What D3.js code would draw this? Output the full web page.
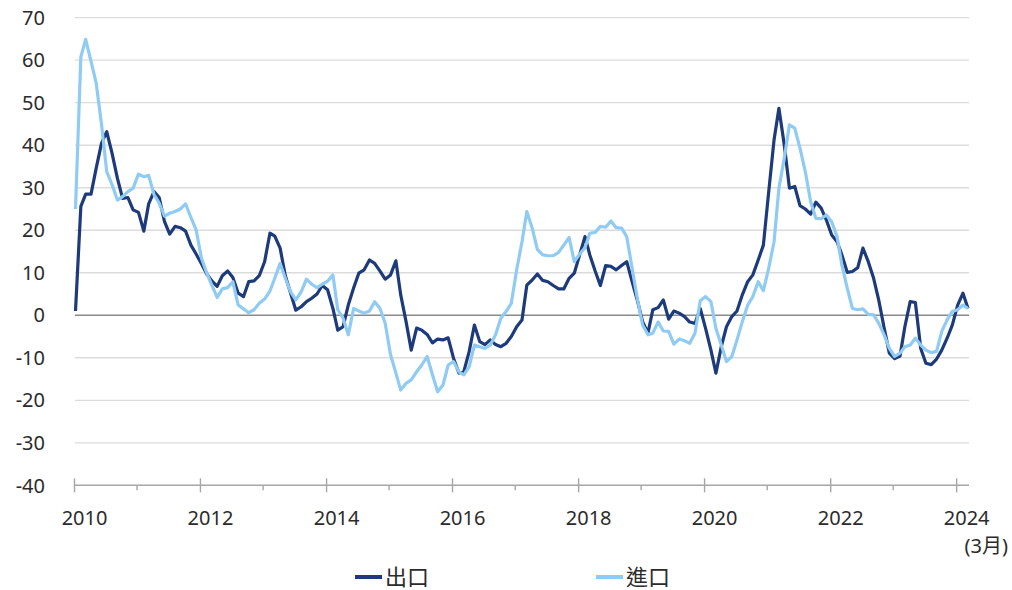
<!DOCTYPE html>
<html>
<head>
<meta charset="utf-8">
<script src="https://cdn.jsdelivr.net/npm/d3@7"></script>
<style>
  body { margin: 0; background: #fff; }
  text { font-family: "Noto Sans", "Noto Sans CJK TC", sans-serif; }
</style>
</head>
<body>
<svg id="chart" width="1012" height="590"></svg>
<script>
// monthly y/y %, Jan 2010 .. Mar 2024
const seriesNames = ["出口", "進口"];
const startMonth = new Date(2010, 0, 1);

const exportValues = [
  1, 25.6, 28.5, 28.5, 34.6, 40.5, 43.2, 38.1, 32.2, 27.5, 27.7, 24.8,
  24.2, 19.8, 26.2, 29.1, 27.7, 22.0, 19.1, 20.9, 20.6, 19.8, 16.5, 14.4,
  12.1, 9.7, 8.1, 6.8, 9.3, 10.4, 8.9, 5.2, 4.4, 7.9, 8.1, 9.3,
  12.6, 19.3, 18.6, 15.8, 9.3, 5.2, 1.2, 2.0, 3.2, 4.0, 5.0, 7.0,
  6.0, 1.6, -3.5, -2.7, 2.4, 6.4, 9.9, 10.7, 13.0, 12.2, 10.4, 8.5,
  9.5, 12.8, 4.8, -1.5, -8.2, -3.0, -3.5, -4.5, -6.5, -5.6, -5.8, -5.3,
  -10.1, -13.6, -13.2, -8.5, -2.3, -6.2, -6.9, -5.8, -6.9, -7.4, -6.6, -5.0,
  -2.7, -1.1, 7.1, 8.3, 9.7, 8.2, 7.9, 7.0, 6.2, 6.2, 8.7, 9.9,
  14.2, 18.5, 14.2, 10.4, 7.0, 11.7, 11.5, 10.7, 11.7, 12.6, 7.9, 3.6,
  -1.5, -4.2, 1.3, 1.8, 3.6, -0.9, 1.0, 0.5, -0.3, -1.6, -1.9, 1.6,
  -3.1, -8.2, -13.6, -7.4, -2.7, -0.3, 1.0, 4.8, 7.9, 9.5, 13.0, 16.5,
  29.1, 41.3, 48.7, 40.1, 29.9, 30.3, 25.8, 25.0, 23.8, 26.6, 25.2, 22.4,
  18.9, 17.3, 14.2, 10.1, 10.3, 11.2, 15.8, 12.6, 8.7, 3.5, -3.0, -8.9,
  -10.2, -9.6, -2.7, 3.2, 3.0, -7.8, -11.3, -11.6, -10.3, -8.2, -5.4, -2.3,
  2.4, 5.2, 1.6
];

const importValues = [
  25, 60.8, 64.9, 59.7, 54.6, 44.8, 33.8, 30.7, 27.1, 27.9, 29.1, 29.9,
  33.2, 32.6, 32.9, 28.4, 26.4, 23.3, 24.0, 24.4, 25.0, 26.2, 23.0, 20.1,
  13.4, 9.9, 7.1, 4.2, 6.2, 6.5, 7.9, 2.4, 1.5, 0.6, 1.3, 2.8,
  3.8, 5.7, 8.7, 12.2, 8.7, 5.5, 3.6, 5.5, 8.5, 7.3, 6.5, 7.3,
  8.0, 9.5, 1.3, -0.7, -4.6, 1.6, 1.0, 0.5, 1.0, 3.2, 1.6, -1.9,
  -9.3, -13.6, -17.6, -16.0, -15.2, -13.3, -11.7, -9.7, -14.0, -18.0, -16.4, -11.7,
  -10.9, -13.3, -14.0, -12.1, -7.0, -7.4, -7.8, -7.0, -4.6, -0.7, 0.9, 2.8,
  10.7, 17.3, 24.4, 20.5, 15.5, 14.2, 14.0, 14.0, 14.8, 16.5, 18.3, 12.6,
  14.4, 15.9, 19.3, 19.5, 20.9, 20.7, 22.2, 20.6, 20.5, 18.5, 11.1, 4.0,
  -2.3, -4.6, -4.2, -1.6, -3.7, -3.8, -6.8, -5.6, -6.0, -6.6, -4.2, 3.4,
  4.4, 3.2, -3.1, -7.0, -10.9, -9.7, -5.8, -1.5, 2.4, 4.4, 7.9, 5.8,
  11.1, 17.3, 29.9, 36.9, 44.8, 44.0, 39.3, 33.8, 26.7, 22.8, 22.7, 23.6,
  22.0, 18.5, 11.8, 6.4, 1.6, 1.3, 1.5, 0.2, 0.1, -1.9, -4.6, -7.8,
  -9.7, -8.9, -7.4, -7.0, -5.4, -7.0, -8.2, -8.8, -8.5, -3.8, -1.1, 0.9,
  1.3, 2.4, 1.6
];

const yTicks = [-40, -30, -20, -10, 0, 10, 20, 30, 40, 50, 60, 70];
const labelYears = [2010, 2012, 2014, 2016, 2018, 2020, 2022, 2024];
const minorYears = [2011, 2013, 2015, 2017, 2019, 2021, 2023];
const endNote = "(3月)";

const colors = ["#1d3a7b", "#8fcbf3"];

const dates = exportValues.map((d, i) => d3.timeMonth.offset(startMonth, i));

const svg = d3.select("#chart");

const x = d3.scaleTime()
  .domain([dates[0], dates[dates.length - 1]])
  .range([75.5, 968]);

const y = d3.scaleLinear()
  .domain([-40, 70])
  .range([485.3, 17.7]);

const left = 75, right = 969;

// gridlines
svg.append("g")
  .selectAll("line")
  .data(yTicks.filter(t => t !== -40))
  .enter().append("line")
  .attr("x1", left).attr("x2", right)
  .attr("y1", d => y(d)).attr("y2", d => y(d))
  .attr("stroke", d => d === 0 ? "#8a8a8a" : "#dcdcdc")
  .attr("stroke-width", d => d === 0 ? 1.5 : 1.3);

// y labels
svg.append("g")
  .selectAll("text")
  .data(yTicks)
  .enter().append("text")
  .attr("x", 45)
  .attr("y", d => y(d))
  .attr("dy", "0.36em")
  .attr("text-anchor", "end")
  .attr("font-size", 20)
  .attr("fill", "#2b2b2b")
  .text(d => d);

// x axis baseline
svg.append("line")
  .attr("x1", left).attr("x2", right)
  .attr("y1", y(-40)).attr("y2", y(-40))
  .attr("stroke", "#a6a6a6")
  .attr("stroke-width", 1.4);

const xAxis = d3.axisBottom(x)
  .tickValues(labelYears.map(yr => new Date(yr, 0, 1)))
  .tickFormat(d3.timeFormat("%Y"))
  .tickSize(7);

const gx = svg.append("g")
  .attr("transform", `translate(-1.5,${y(-40)})`)
  .call(xAxis);
gx.select(".domain").remove();
gx.selectAll(".tick line")
  .attr("y1", -7)
  .attr("stroke", "#a6a6a6")
  .attr("stroke-width", 1.4);
gx.selectAll(".tick text")
  .attr("x", 10)
  .attr("y", 25.5)
  .attr("font-size", 20)
  .attr("font-family", null)
  .attr("fill", "#2b2b2b");

// minor year ticks
svg.append("g")
  .attr("transform", `translate(-1.5,${y(-40)})`)
  .selectAll("line")
  .data(minorYears)
  .enter().append("line")
  .attr("x1", d => x(new Date(d, 0, 1)))
  .attr("x2", d => x(new Date(d, 0, 1)))
  .attr("y1", 0).attr("y2", 5)
  .attr("stroke", "#a6a6a6")
  .attr("stroke-width", 1.4);

svg.append("text")
  .attr("x", 1008)
  .attr("y", 553)
  .attr("text-anchor", "end")
  .attr("font-size", 20)
  .attr("fill", "#2b2b2b")
  .text(endNote);

// lines
const line = d3.line()
  .x((d, i) => x(dates[i]))
  .y(d => y(d));

[exportValues, importValues].forEach((vals, k) => {
  svg.append("path")
    .datum(vals)
    .attr("fill", "none")
    .attr("stroke", colors[k])
    .attr("stroke-width", 3.2)
    .attr("stroke-linejoin", "round")
    .attr("d", line);
});

// legend
const legendX = [355, 596];
const legend = svg.append("g")
  .selectAll("g")
  .data(seriesNames)
  .enter().append("g")
  .attr("transform", (d, i) => `translate(${legendX[i]},577)`);

legend.append("line")
  .attr("x1", 0).attr("x2", 27)
  .attr("y1", 0).attr("y2", 0)
  .attr("stroke", (d, i) => colors[i])
  .attr("stroke-width", 4);

legend.append("text")
  .attr("x", 30)
  .attr("y", 8)
  .attr("font-size", 22)
  .attr("font-family", "'Noto Sans CJK TC', sans-serif")
  .attr("fill", "#2b2b2b")
  .text(d => d);
</script>
</body>
</html>
